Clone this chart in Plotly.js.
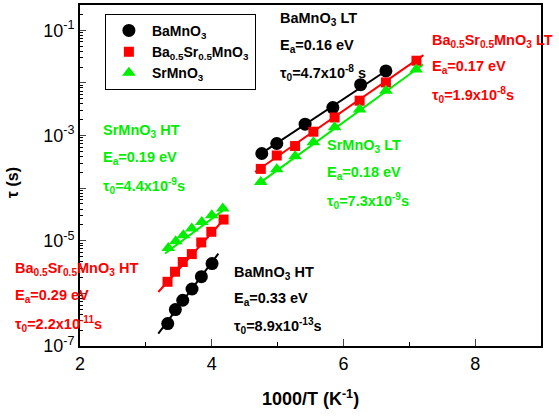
<!DOCTYPE html>
<html><head><meta charset="utf-8">
<script src="https://cdn.plot.ly/plotly-3.0.1.min.js"></script>
<style>html,body{margin:0;padding:0;background:#fff}#c{width:559px;height:416px}</style>
</head><body><div id="c"></div>
<script>
// ---- data (x = 1000/T in K^-1, y = tau in s) ----
const ba_ht_x = [3.332, 3.448, 3.560, 3.701, 3.843, 4.005];
const ba_ht_y = [2.67e-7, 4.92e-7, 7.40e-7, 1.21e-6, 2.08e-6, 3.69e-6];
const ba_lt_x = [4.760, 4.988, 5.418, 5.839, 6.261, 6.645];
const ba_lt_y = [4.55e-4, 7.05e-4, 1.64e-3, 3.40e-3, 9.25e-3, 1.69e-2];

const bs_ht_x = [3.329, 3.443, 3.560, 3.698, 3.841, 3.994, 4.180];
const bs_ht_y = [1.66e-6, 2.58e-6, 3.95e-6, 5.58e-6, 9.29e-6, 1.48e-5, 2.53e-5];
const bs_lt_x = [4.745, 4.988, 5.266, 5.544, 5.866, 6.246, 6.645, 7.109];
const bs_lt_y = [2.32e-4, 4.17e-4, 6.31e-4, 1.18e-3, 2.20e-3, 4.59e-3, 1.02e-2, 2.64e-2];

const sr_ht_x = [3.341, 3.454, 3.569, 3.697, 3.849, 4.001, 4.168];
const sr_ht_y = [7.30e-6, 9.77e-6, 1.27e-5, 1.71e-5, 2.28e-5, 3.05e-5, 4.09e-5];
const sr_lt_x = [4.745, 4.988, 5.266, 5.544, 5.866, 6.246, 6.645, 7.104];
const sr_lt_y = [1.31e-4, 2.29e-4, 4.04e-4, 7.46e-4, 1.44e-3, 3.12e-3, 7.11e-3, 1.80e-2];

// fitted lines (end points)
const ba_ht_fit_x = [3.189, 4.101], ba_ht_fit_y = [1.72e-7, 5.71e-6];
const ba_lt_fit_x = [4.72, 6.66],   ba_lt_fit_y = [4.27e-4, 1.74e-2];
const bs_ht_fit_x = [3.189, 4.218], bs_ht_fit_y = [1.06e-6, 2.83e-5];
const bs_lt_fit_x = [4.658, 7.215], bs_lt_fit_y = [2.03e-4, 3.37e-2];
const sr_ht_fit_x = [3.291, 4.228], sr_ht_fit_y = [5.71e-6, 4.27e-5];
const sr_lt_fit_x = [4.704, 7.21],  sr_lt_fit_y = [1.19e-4, 2.24e-2];

const names = ['BaMnO<sub>3</sub>', 'Ba<sub>0.5</sub>Sr<sub>0.5</sub>MnO<sub>3</sub>', 'SrMnO<sub>3</sub>'];
const yTickVals = [1e-7, 1e-6, 1e-5, 1e-4, 1e-3, 1e-2, 1e-1];
const yTickText = ['10<sup>-7</sup>', '', '10<sup>-5</sup>', '', '10<sup>-3</sup>', '', '10<sup>-1</sup>'];

const BLACK = '#000000', RED = '#ff0000', GREEN = '#00ee00';
const FONT = 'Arial, "Liberation Sans", sans-serif';

function line(x, y, c) {
  return {x: x, y: y, mode: 'lines', line: {color: c, width: 2}, showlegend: false, hoverinfo: 'skip'};
}
function pts(x, y, c, sym, sz, name) {
  return {x: x, y: y, mode: 'markers', name: name,
          marker: {color: c, symbol: sym, size: sz, line: {width: 0}}};
}

const traces = [
  line(ba_ht_fit_x, ba_ht_fit_y, BLACK), line(ba_lt_fit_x, ba_lt_fit_y, BLACK),
  line(bs_ht_fit_x, bs_ht_fit_y, RED),   line(bs_lt_fit_x, bs_lt_fit_y, RED),
  line(sr_ht_fit_x, sr_ht_fit_y, GREEN), line(sr_lt_fit_x, sr_lt_fit_y, GREEN),
  pts(ba_ht_x.concat(ba_lt_x), ba_ht_y.concat(ba_lt_y), BLACK, 'circle', 13, names[0]),
  pts(bs_ht_x.concat(bs_lt_x), bs_ht_y.concat(bs_lt_y), RED, 'square', 10, names[1]),
  pts(sr_ht_x.concat(sr_lt_x), sr_ht_y.concat(sr_lt_y), GREEN, 'triangle-up', 12, names[2])
];

// annotation helper: pixel position -> paper coordinates
const L = 80, R = 541, T = 5, B = 345.7;
function ann(px, py, text, color) {
  return {xref: 'paper', yref: 'paper', x: (px - L) / (R - L), y: (B - py) / (B - T),
          xanchor: 'left', yanchor: 'middle', text: text, showarrow: false,
          font: {family: FONT, size: 14.5, color: color, weight: 'bold'}};
}
const annotations = [
  ann(278, 19, 'BaMnO<sub>3</sub> LT', BLACK),
  ann(278, 46, 'E<sub>a</sub>=0.16 eV', BLACK),
  ann(278, 73, 'τ<sub>0</sub>=4.7x10<sup>-8</sup> s', BLACK),
  ann(430, 41, 'Ba<sub>0.5</sub>Sr<sub>0.5</sub>MnO<sub>3</sub> LT', RED),
  ann(430, 67, 'E<sub>a</sub>=0.17 eV', RED),
  ann(430, 95, 'τ<sub>0</sub>=1.9x10<sup>-8</sup>s', RED),
  ann(101, 131, 'SrMnO<sub>3</sub> HT', GREEN),
  ann(101, 158, 'E<sub>a</sub>=0.19 eV', GREEN),
  ann(101, 186, 'τ<sub>0</sub>=4.4x10<sup>-9</sup>s', GREEN),
  ann(325, 146, 'SrMnO<sub>3</sub> LT', GREEN),
  ann(325, 173, 'E<sub>a</sub>=0.18 eV', GREEN),
  ann(325, 201, 'τ<sub>0</sub>=7.3x10<sup>-9</sup>s', GREEN),
  ann(13, 269, 'Ba<sub>0.5</sub>Sr<sub>0.5</sub>MnO<sub>3</sub> HT', RED),
  ann(13, 296, 'E<sub>a</sub>=0.29 eV', RED),
  ann(13, 324, 'τ<sub>0</sub>=2.2x10<sup>-11</sup>s', RED),
  ann(232, 273, 'BaMnO<sub>3</sub> HT', BLACK),
  ann(232, 299, 'E<sub>a</sub>=0.33 eV', BLACK),
  ann(232, 326, 'τ<sub>0</sub>=8.9x10<sup>-13</sup>s', BLACK),
  // y axis title placed like the reference
  {xref: 'paper', yref: 'paper', x: (12 - L) / (R - L), y: (B - 183) / (B - T),
   xanchor: 'center', yanchor: 'middle', textangle: -90, showarrow: false,
   text: 'τ (s)', font: {family: FONT, size: 16, color: BLACK, weight: 'bold'}}
];

const layout = {
  width: 559, height: 416,
  margin: {l: 80, r: 18, t: 5, b: 70.3},
  paper_bgcolor: '#fff', plot_bgcolor: '#fff',
  font: {family: FONT, color: '#000'},
  showlegend: true,
  legend: {x: 0.054, y: 0.974, xanchor: 'left', yanchor: 'top',
           bordercolor: '#000', borderwidth: 1, bgcolor: '#fff', itemwidth: 36,
           font: {family: FONT, size: 14, weight: 'bold'}},
  xaxis: {range: [2, 9], dtick: 2, tick0: 2, ticks: 'inside', ticklen: 7, tickwidth: 1,
          showgrid: false, zeroline: false, showline: true, linecolor: '#000', linewidth: 2, mirror: true,
          tickfont: {family: FONT, size: 18},
          minor: {dtick: 1, ticks: 'inside', ticklen: 4, tickcolor: '#000', showgrid: false},
          title: {text: '<b>1000/T (K<sup>-1</sup>)</b>', font: {family: FONT, size: 18}, standoff: 20}},
  yaxis: {type: 'log', range: [-7, -0.52], tickvals: yTickVals, ticktext: yTickText,
          ticks: 'inside', ticklen: 6, tickwidth: 1,
          showgrid: false, zeroline: false, showline: true, linecolor: '#000', linewidth: 2, mirror: true,
          tickfont: {family: FONT, size: 18},
          minor: {dtick: 'D1', ticks: 'inside', ticklen: 3, tickcolor: '#000', showgrid: false}},
  annotations: annotations
};

Plotly.newPlot('c', traces, layout, {displayModeBar: false, staticPlot: true});
</script>
</body></html>
